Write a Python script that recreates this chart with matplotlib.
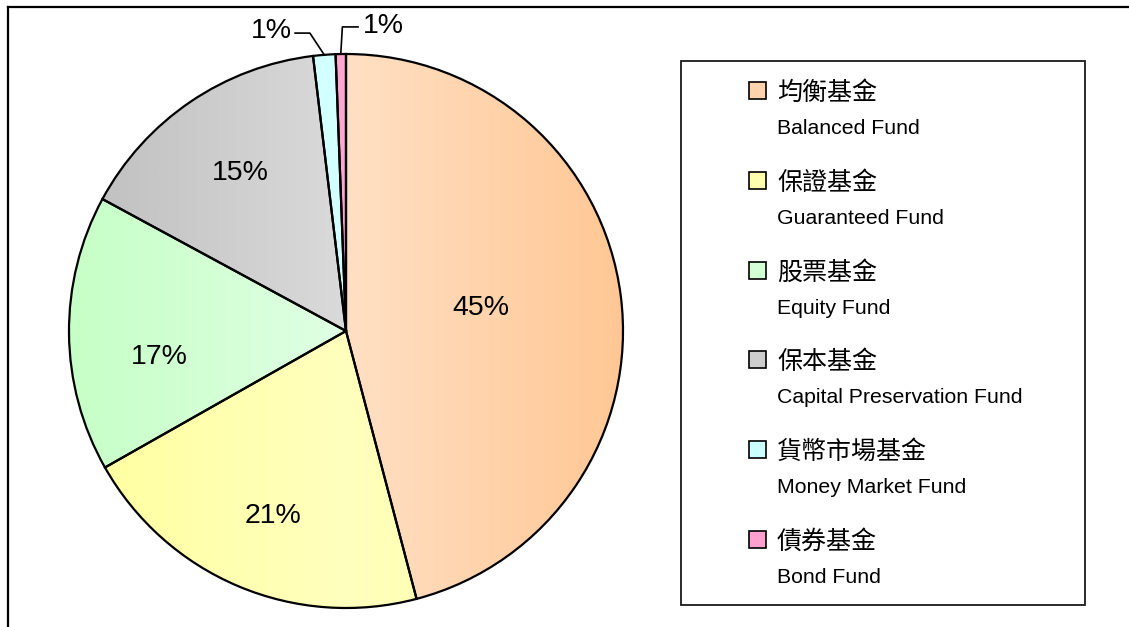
import matplotlib
matplotlib.use('Agg')
import matplotlib.pyplot as plt
import numpy as np
from matplotlib import font_manager
from matplotlib.patches import Rectangle
from matplotlib.lines import Line2D
from matplotlib.colors import to_rgb

# ---------------- data ----------------
categories_zh = ['均衡基金', '保證基金', '股票基金', '保本基金', '貨幣市場基金', '債券基金']
categories_en = ['Balanced Fund', 'Guaranteed Fund', 'Equity Fund',
                 'Capital Preservation Fund', 'Money Market Fund', 'Bond Fund']
shares = [45.9, 20.9, 16.1, 15.2, 1.3, 0.6]
pct_labels = ['45%', '21%', '17%', '15%', '1%', '1%']

# ---------------- style ----------------
light_colors = ['#FFE0C4', '#FFFFBE', '#E0FFE4', '#DADADA', '#D4FFFF', '#FFA6D2']
dark_colors = ['#FFC794', '#FFFF9E', '#C6FFC6', '#BEBEBE', '#C4FFFF', '#FF99CC']
label_dist = [0.50, 0.70, 0.68, 0.70]
label_shift_px = [(-2, -5), (2, 6), (2, 24), (3, 2)]   # fine placement (image px, down +)

names = {f.name for f in font_manager.fontManager.ttflist}
latin = 'Liberation Sans Narrow' if 'Liberation Sans Narrow' in names else 'Liberation Sans'
cjk = 'Noto Sans CJK TC'
plt.rcParams['font.family'] = [latin, 'DejaVu Sans']

W, H = 1129, 627
fig = plt.figure(figsize=(W / 100, H / 100), dpi=100)
fig.patch.set_facecolor('white')

# pie axes: center at (346, 331) image px, 1 data unit = 280 px
ax = fig.add_axes([66 / W, 16 / H, 560 / W, 560 / H])
R = 277 / 280
wedges, _ = ax.pie(shares, startangle=90, counterclock=False, radius=R,
                   wedgeprops=dict(edgecolor='black', linewidth=1.6, facecolor='none'))

N = 400
xs = np.linspace(-R, R, N)
t = np.abs(xs) / R
for w, lc, dc in zip(wedges, light_colors, dark_colors):
    l = np.array(to_rgb(lc))
    d = np.array(to_rgb(dc))
    arr = l[None, :] * (1 - t[:, None]) + d[None, :] * t[:, None]
    im = ax.imshow(arr[None, :, :], extent=(-R, R, -R, R), aspect='auto',
                   interpolation='bilinear', zorder=0)
    im.set_clip_path(w)

ax.set_xlim(-1, 1)
ax.set_ylim(-1, 1)
ax.set_aspect('equal')
ax.axis('off')

# percentage labels
total = sum(shares)
cum = np.cumsum([0] + shares[:-1])
mid_deg = [90 - 360 * (c + s / 2) / total for c, s in zip(cum, shares)]
pct_size = 20.5
for i in range(4):
    a = np.deg2rad(mid_deg[i])
    r = label_dist[i] * R
    sx, sy = label_shift_px[i]
    ax.text(r * np.cos(a) + sx / 280, r * np.sin(a) - sy / 280, pct_labels[i],
            ha='center', va='center', fontsize=pct_size, color='black')

# small slices with leader lines
a4 = np.deg2rad(mid_deg[4])
p4 = (R * np.cos(a4), R * np.sin(a4))
ax.add_line(Line2D([p4[0], -0.129, -0.182], [p4[1], 1.064, 1.064], color='black',
                   lw=1.2, clip_on=False))
ax.text(-0.192, 1.070, pct_labels[4], ha='right', va='center', fontsize=pct_size,
        clip_on=False)
a5 = np.deg2rad(mid_deg[5])
p5 = (R * np.cos(a5), R * np.sin(a5))
ax.add_line(Line2D([p5[0], -0.013, 0.043], [p5[1], 1.086, 1.086], color='black',
                   lw=1.2, clip_on=False))
ax.text(0.060, 1.090, pct_labels[5], ha='left', va='center', fontsize=pct_size,
        clip_on=False)

# legend box (manual)
fig.add_artist(Rectangle((681 / W, (627 - 605) / H), 404 / W, 544 / H,
                         transform=fig.transFigure, fill=False,
                         edgecolor='#1a1a1a', lw=1.3))
en_size = 15.3
for i in range(6):
    cy = 90.5 + 89.8 * i
    mid = 0.5 * (np.array(to_rgb(light_colors[i])) + np.array(to_rgb(dark_colors[i])))
    fig.add_artist(Rectangle((749 / W, (627 - cy - 8.5) / H), 17 / W, 17 / H,
                             transform=fig.transFigure, facecolor=mid,
                             edgecolor='black', lw=1.2))
    fig.text(777 / W, (627 - (cy + 9.5)) / H, categories_zh[i],
             family=[cjk, 'DejaVu Sans'], fontsize=18, ha='left', va='baseline')
    fig.text(777 / W, (627 - (cy + 43.5)) / H, categories_en[i],
             fontsize=en_size, ha='left', va='baseline')

# outer frame (top and left edges visible)
fig.add_artist(Line2D([7.5 / W, 1.0], [620.5 / H, 620.5 / H], transform=fig.transFigure,
                      color='black', lw=1.6))
fig.add_artist(Line2D([7.5 / W, 7.5 / W], [0, 620.5 / H], transform=fig.transFigure,
                      color='black', lw=1.6))

fig.savefig('out.png', dpi=100)
